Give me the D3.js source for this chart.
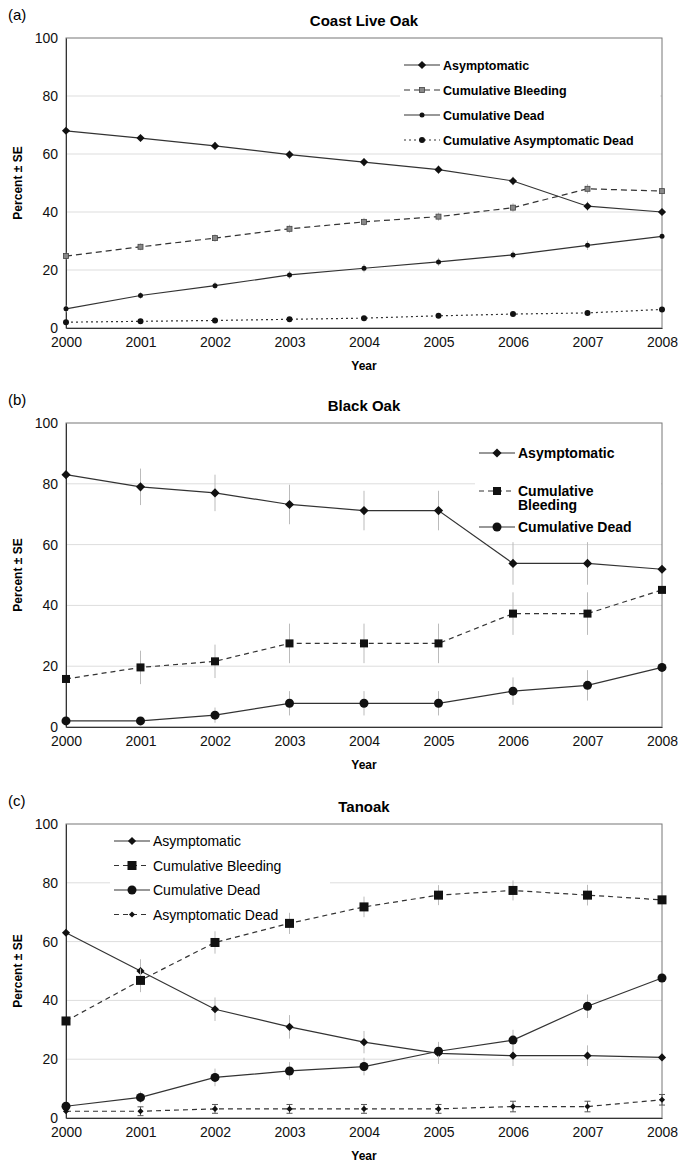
<!DOCTYPE html>
<html><head><meta charset="utf-8">
<script src="https://cdn.jsdelivr.net/npm/d3@7"></script>
<style>body{margin:0;background:#fff}text{font-family:"Liberation Sans",Arial,sans-serif}</style>
</head><body>
<svg id="chart" width="680" height="1163"></svg>
<script>
const years = [2000, 2001, 2002, 2003, 2004, 2005, 2006, 2007, 2008];
const yTicks = [0, 20, 40, 60, 80, 100];

// (a) Coast Live Oak
const aAsym = [68, 65.5, 62.8, 59.8, 57.2, 54.6, 50.7, 42, 40];
const aBleed = [24.8, 28, 31, 34.2, 36.6, 38.4, 41.5, 48, 47.2];
const aDead = [6.6, 11.2, 14.6, 18.3, 20.6, 22.8, 25.2, 28.5, 31.6];
const aAsymDead = [2, 2.3, 2.6, 3, 3.4, 4.2, 4.8, 5.2, 6.4];
const aErr = [1.2, 1.2, 1.3, 1.4, 1.4, 1.4, 1.5, 1.6, 1.6];

// (b) Black Oak
const bAsym = [83, 79, 77, 73.2, 71.2, 71.2, 53.8, 53.8, 51.9];
const bBleed = [15.8, 19.6, 21.6, 27.5, 27.5, 27.5, 37.3, 37.3, 45.1];
const bDead = [2, 2, 3.9, 7.8, 7.8, 7.8, 11.8, 13.7, 19.6];
const bErrAsym = [0, 6, 6, 6.5, 6.5, 6.5, 7, 7, 0];
const bErrBleed = [0, 5.5, 5.5, 6.5, 6.5, 6.5, 7, 7, 0];
const bErrDead = [0, 0, 2.5, 4, 4, 4, 4.5, 5, 0];

// (c) Tanoak
const cAsym = [63, 50, 37, 31, 25.8, 22, 21.2, 21.2, 20.6];
const cBleed = [33, 46.8, 59.7, 66.2, 71.8, 75.8, 77.4, 75.8, 74.2];
const cDead = [4, 7, 13.8, 16, 17.5, 22.7, 26.5, 38, 47.6];
const cAsymDead = [2.3, 2.3, 3.1, 3.1, 3.1, 3.1, 3.9, 3.9, 6.2];
const cErrAsym = [0, 4, 4, 4, 3.8, 3.6, 3.5, 3.5, 0];
const cErrBleed = [0, 4, 3.8, 3.6, 3.5, 3.4, 3.4, 3.5, 0];
const cErrDead = [0, 2, 3, 3, 3, 3.2, 3.5, 4, 0];
const cErrAD = [0, 1.5, 1.5, 1.5, 1.5, 1.5, 1.8, 1.8, 1.8];

const svg = d3.select("#chart");
const line = "#333";

function symbol(g, type, x, y, size) {
  if (type === "diamond") {
    const s = size * 0.72;
    g.append("rect").attr("x", -s / 2).attr("y", -s / 2).attr("width", s).attr("height", s)
      .attr("transform", `translate(${x},${y}) rotate(45)`).attr("fill", "#111");
  } else if (type === "square") {
    g.append("rect").attr("x", x - size / 2).attr("y", y - size / 2)
      .attr("width", size).attr("height", size).attr("fill", "#111");
  } else if (type === "squareGray") {
    g.append("rect").attr("x", x - size / 2).attr("y", y - size / 2)
      .attr("width", size).attr("height", size).attr("fill", "#888").attr("stroke", "#444").attr("stroke-width", 0.8);
  } else {
    g.append("circle").attr("cx", x).attr("cy", y).attr("r", size / 2).attr("fill", "#111");
  }
}

function panel(p) {
  const x = d3.scaleLinear().domain([2000, 2008]).range([66, 662]);
  const y = d3.scaleLinear().domain([0, 100]).range([p.bottom, p.top]);
  const g = svg.append("g");

  g.selectAll(".grid").data(yTicks.slice(1, 5)).enter().append("line")
    .attr("x1", 66).attr("x2", 662).attr("y1", d => y(d)).attr("y2", d => y(d))
    .attr("stroke", "#ddd");

  g.append("rect").attr("x", p.legX).attr("y", p.legY).attr("width", p.legW).attr("height", p.legH).attr("fill", "#fff");

  g.append("rect").attr("x", 66).attr("y", p.top).attr("width", 596).attr("height", p.bottom - p.top)
    .attr("fill", "none").attr("stroke", "#777");

  g.append("g").attr("transform", `translate(66,0)`)
    .call(d3.axisLeft(y).tickValues(yTicks).tickSize(0).tickPadding(8))
    .call(a => a.select(".domain").attr("stroke", "#333"))
    .selectAll("text").attr("font-size", 14).attr("fill", "#111");
  g.append("g").attr("transform", `translate(0,${p.bottom})`)
    .call(d3.axisBottom(x).tickValues(years).tickFormat(d3.format("d")).tickSize(0).tickPadding(9))
    .call(a => a.select(".domain").attr("stroke", "#333"))
    .selectAll("text").attr("font-size", 14).attr("fill", "#111");

  g.append("text").attr("x", 364).attr("y", p.top - 12).attr("text-anchor", "middle")
    .attr("font-size", 15).attr("font-weight", "bold").text(p.title);
  g.append("text").attr("x", 8).attr("y", p.top - 18).attr("font-size", 15).text(p.tag);
  g.append("text").attr("x", 364).attr("y", p.bottom + 42).attr("text-anchor", "middle")
    .attr("font-size", 12).attr("font-weight", "bold").text("Year");
  g.append("text").attr("transform", `translate(22,${(p.top + p.bottom) / 2}) rotate(-90)`)
    .attr("text-anchor", "middle").attr("font-size", 12).attr("font-weight", "bold").text("Percent ± SE");

  p.series.forEach(s => {
    const pts = years.map((yr, i) => [x(yr), y(s.values[i]), s.err ? s.err[i] : 0, s.values[i]]);
    pts.forEach(d => {
      if (d[2] > 0) {
        g.append("line").attr("x1", d[0]).attr("x2", d[0]).attr("y1", y(d[3] - d[2])).attr("y2", y(d[3] + d[2]))
          .attr("stroke", s.errColor || "#bbb").attr("stroke-width", 1);
        if (s.caps) {
          [d[3] - d[2], d[3] + d[2]].forEach(v => g.append("line").attr("x1", d[0] - 3).attr("x2", d[0] + 3)
            .attr("y1", y(v)).attr("y2", y(v)).attr("stroke", "#555"));
        }
      }
    });
    g.append("path").datum(pts).attr("d", d3.line()).attr("fill", "none")
      .attr("stroke", line).attr("stroke-width", 1.2).attr("stroke-dasharray", s.dash || null);
    pts.forEach(d => symbol(g, s.sym, d[0], d[1], s.size));
  });

  p.series.forEach((s, i) => {
    const ly = p.legY + 12 + i * p.legStep[i];
    g.append("line").attr("x1", p.legX + 4).attr("x2", p.legX + 40).attr("y1", ly).attr("y2", ly)
      .attr("stroke", line).attr("stroke-width", 1.2).attr("stroke-dasharray", s.dash || null);
    symbol(g, s.sym, p.legX + 22, ly, s.size);
    const t = g.append("text").attr("x", p.legX + 43).attr("y", ly + 5).attr("font-size", p.legFont)
      .attr("font-weight", p.legBold ? "bold" : "normal");
    (s.label.split("\n")).forEach((part, k) => t.append("tspan").attr("x", p.legX + 43).attr("dy", k ? 14 : 0).text(part));
  });
}

panel({
  tag: "(a)", title: "Coast Live Oak", top: 38, bottom: 328,
  legX: 400, legY: 53, legW: 260, legH: 100, legStep: [25, 25, 25, 25], legFont: 12.5, legBold: true,
  series: [
    { label: "Asymptomatic", values: aAsym, err: aErr, sym: "diamond", size: 8 },
    { label: "Cumulative Bleeding", values: aBleed, err: aErr, sym: "squareGray", size: 5, dash: "6,4" },
    { label: "Cumulative Dead", values: aDead, err: aErr, sym: "circle", size: 5 },
    { label: "Cumulative Asymptomatic Dead", values: aAsymDead, err: aErr.map(() => 0), sym: "circle", size: 6, dash: "2,3" }
  ]
});

panel({
  tag: "(b)", title: "Black Oak", top: 423, bottom: 727,
  legX: 475, legY: 441, legW: 186, legH: 70, legStep: [38, 38, 37], legFont: 14, legBold: true,
  series: [
    { label: "Asymptomatic", values: bAsym, err: bErrAsym, sym: "diamond", size: 9 },
    { label: "Cumulative\nBleeding", values: bBleed, err: bErrBleed, sym: "square", size: 8, dash: "5,4" },
    { label: "Cumulative Dead", values: bDead, err: bErrDead, sym: "circle", size: 9 }
  ]
});

panel({
  tag: "(c)", title: "Tanoak", top: 824, bottom: 1118,
  legX: 110, legY: 829, legW: 220, legH: 90, legStep: [24.5, 24.5, 24.5, 24.5], legFont: 14, legBold: false,
  series: [
    { label: "Asymptomatic", values: cAsym, err: cErrAsym, sym: "diamond", size: 8 },
    { label: "Cumulative Bleeding", values: cBleed, err: cErrBleed, sym: "square", size: 9, dash: "5,4" },
    { label: "Cumulative Dead", values: cDead, err: cErrDead, sym: "circle", size: 9 },
    { label: "Asymptomatic Dead", values: cAsymDead, err: cErrAD, sym: "diamond", size: 6, dash: "5,4", caps: true, errColor: "#555" }
  ]
});
</script>
</body></html>
